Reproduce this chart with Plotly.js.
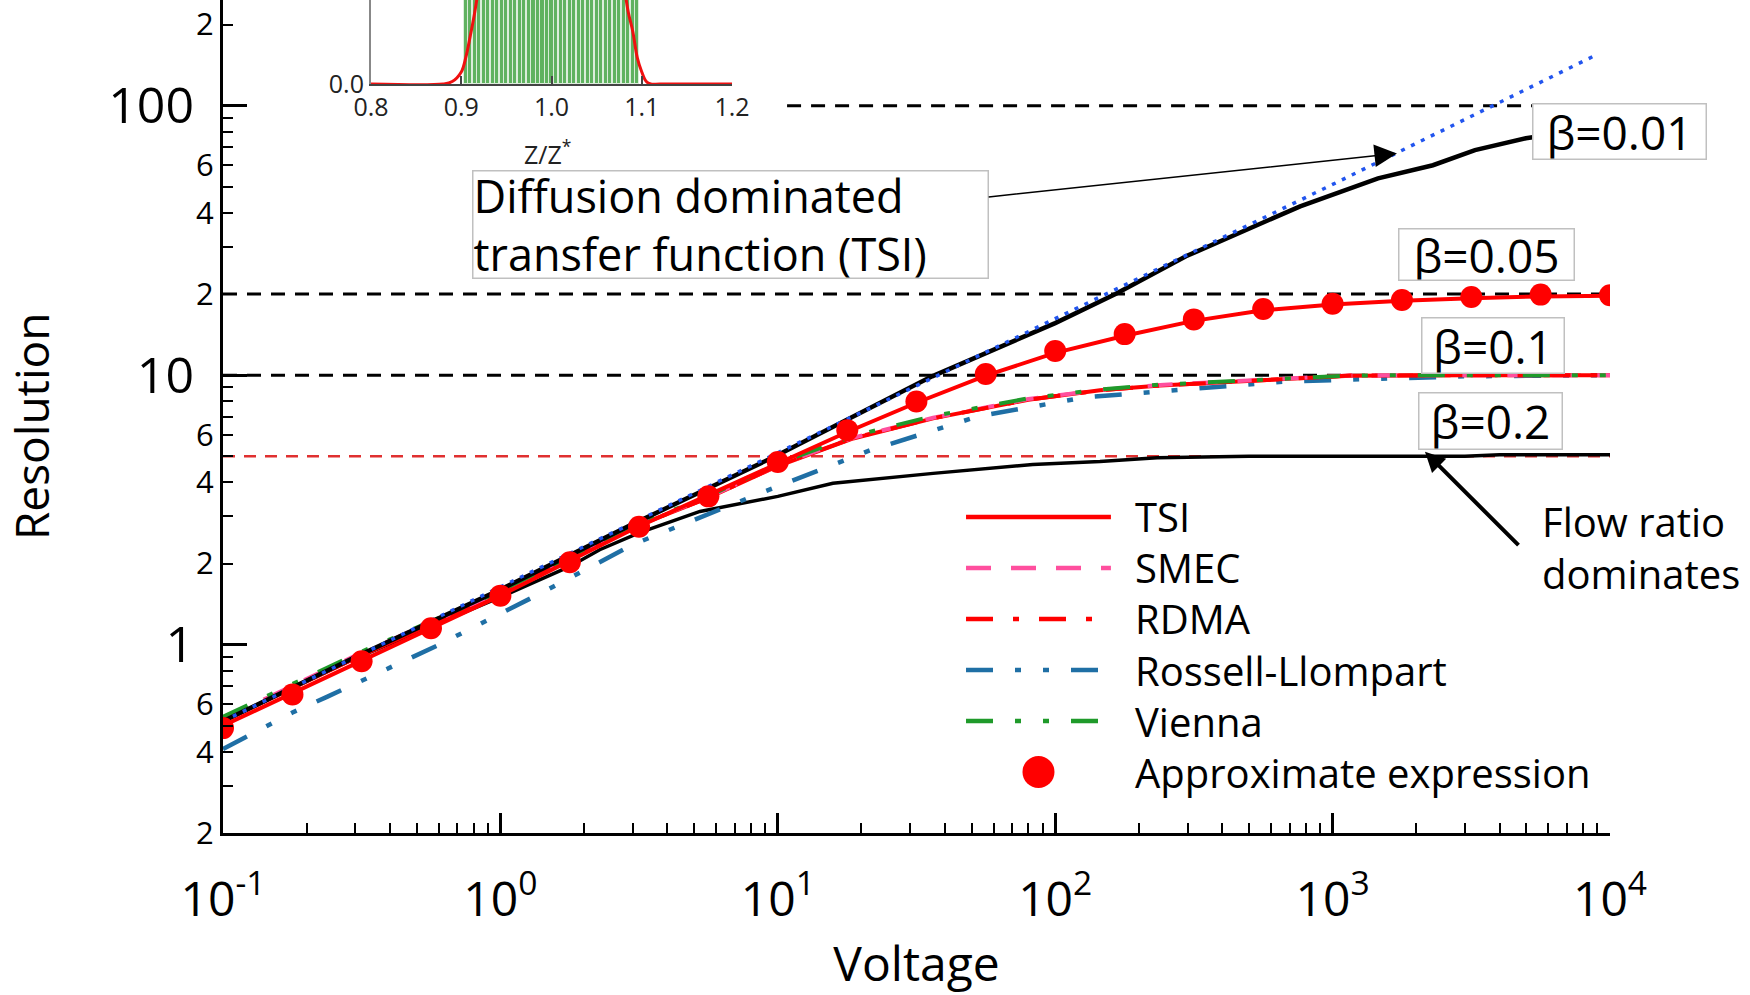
<!DOCTYPE html>
<html><head><meta charset="utf-8">
<script src="https://cdn.plot.ly/plotly-3.0.1.min.js"></script>
<style>html,body{margin:0;padding:0;background:#fff}#chart{width:1750px;height:995px}</style>
</head><body><div id="chart"></div>
<script>
// ---------- data ----------
// approximate expression (beta = 0.05), red dots
const voltageDots = [0.1,0.178,0.316,0.562,1,1.78,3.16,5.62,10,17.8,31.6,56.2,100,178,316,562,1000,1778,3162,5623,10000];
const approxB005  = [0.49,0.653,0.867,1.15,1.52,2.02,2.74,3.55,4.76,6.25,7.98,10.1,12.3,14.2,16.1,17.6,18.4,19.0,19.5,19.9,19.8];
// TSI beta = 0.05
const voltB005 = [0.1,0.3,1,3,10,17.8,31.6,56.2,100,178,316,562,1000,1778,3162,5623,10000];
const tsiB005  = [0.5,0.85,1.52,2.68,4.7,6.15,7.9,9.95,12.1,14.0,15.9,17.4,18.3,18.9,19.3,19.6,19.7];
// beta = 0.01 (black)
const voltB001 = [0.1,0.3,1,3,10,36,100,165,296,764,1458,2300,3260,4975,10000];
const resB001  = [0.52,0.9,1.6,2.8,5.05,9.9,15.6,20,27.6,42.3,53.7,60.1,68.4,75.7,84];
// diffusion dominated transfer function (blue dotted)
const voltDiff = [0.1,1,10,100,1000,8840];
const resDiff  = [0.52,1.63,5.15,16.2,51,153.6];
// beta = 0.1 group
const voltB01   = [0.1,0.3,1,3,5.6,10,18.7,36.3,80,145,239,580,1156,3000,10000];
const tsiB01    = [0.52,0.89,1.55,2.72,3.5,4.6,5.82,6.91,8.1,8.78,9.16,9.57,9.95,10,10];
const smecB01   = [0.53,0.91,1.57,2.74,3.52,4.62,5.86,6.95,8.15,8.8,9.2,9.6,9.97,10,10];
const rdmaB01   = [0.52,0.9,1.55,2.72,3.5,4.62,5.84,6.92,8.1,8.78,9.15,9.58,9.96,10,10];
const viennaB01 = [0.54,0.92,1.58,2.76,3.55,4.7,5.95,7.05,8.2,8.85,9.22,9.6,9.97,10,10];
const voltRossell = [0.1,0.178,0.237,0.59,1.43,3,8.6,21.5,52.7,128,690,3000,10000];
const rossellB01  = [0.41,0.56,0.64,0.99,1.57,2.35,3.64,5.26,7.03,8.27,9.48,9.9,10];
// beta = 0.2 (black)
const voltB02 = [0.1,0.3,1,1.78,2.28,3.16,5.24,10,15.8,36.3,83,145,233,500,3000,4000,10000];
const resB02  = [0.52,0.89,1.5,1.95,2.25,2.6,3.12,3.55,3.97,4.32,4.66,4.78,4.94,5.0,5.0,5.07,5.07];
// horizontal limit lines
const limitLevels = [100,20,10,5];
const limitStart  = [10.8,0.1,0.1,0.1];
const limitEnd    = [10000,10000,10000,10000];
// tick labels
const xTickVals = [0.1,1,10,100,1000,10000];
const xTickText = ['10<sup>-1</sup>','10<sup>0</sup>','10<sup>1</sup>','10<sup>2</sup>','10<sup>3</sup>','10<sup>4</sup>'];
const yTickValsSmall = [0.2,0.4,0.6,2,4,6,20,40,60,200];
const yTickTextSmall = ['2','4','6','2','4','6','2','4','6','2'];
const yTickValsBig = [1,10,100];
const yTickTextBig = ['1','10','100'];
const yMinorVals = [0.3,0.5,0.7,0.8,0.9,3,5,7,8,9,30,50,70,80,90];
// legend
const legendNames = ['TSI','SMEC','RDMA','Rossell-Llompart','Vienna','Approximate expression'];
const legendRows  = [0,1,2,3,4,5];
// beta labels
const betaLabels = ['β=0.01','β=0.05','β=0.1','β=0.2'];
// inset: transfer function vs Z/Z*
const insetZ  = [0.8,0.88,0.89,0.9,0.905,0.91,0.915,0.92,0.93,0.95,1.0,1.05,1.07,1.08,1.085,1.09,1.095,1.1,1.105,1.11,1.12,1.2];
const insetTF = [0,0,0.01,0.05,0.11,0.2,0.3,0.42,0.65,0.9,1,0.9,0.65,0.42,0.3,0.22,0.11,0.05,0.01,0,0,0];
const insetBarZ = [0.905,0.91,0.915,0.92,0.925,0.93,0.935,0.94,0.945,0.95,0.955,0.96,0.965,0.97,0.975,0.98,0.985,0.99,0.995,1.0,1.005,1.01,1.015,1.02,1.025,1.03,1.035,1.04,1.045,1.05,1.055,1.06,1.065,1.07,1.075,1.08,1.085,1.09,1.095];
const insetBarH = [1,1,1,1,1,1,1,1,1,1,1,1,1,1,1,1,1,1,1,1,1,1,1,1,1,1,1,1,1,1,1,1,1,1,1,1,1,1,1];
const insetTickVals = [0.8,0.9,1.0,1.1,1.2];
const insetTickText = ['0.8','0.9','1.0','1.1','1.2'];

// ---------- styles ----------
const FONT = 'Open Sans, Liberation Sans, sans-serif';
const RED = '#ff0000', PINK = '#ff4f9e', BLUE = '#1f6fa5', GREEN = '#1f9a2a';
const dashSMEC = '25px,20px';
const dashRDMA = '27px,20px,6px,20px';
const dashDDot = '27px,22px,6px,22px,6px,22px';

const traces = [];
// limit lines
limitLevels.forEach((lv, i) => {
  traces.push({x:[limitStart[i], limitEnd[i]], y:[lv, lv], mode:'lines', showlegend:false, hoverinfo:'skip',
    line:{color: lv === 5 ? '#e03030' : '#000', width: lv === 5 ? 2.5 : 3, dash: lv === 5 ? '12px,9px' : '14px,10px'}});
});
// beta 0.2
traces.push({x:voltB02, y:resB02, mode:'lines', showlegend:false, line:{color:'#000', width:3.5}});
// beta 0.1 group
traces.push({x:voltRossell, y:rossellB01, mode:'lines', showlegend:false, line:{color:BLUE, width:4.5, dash:dashDDot}});
traces.push({x:voltB01, y:tsiB01, mode:'lines', showlegend:false, line:{color:RED, width:4}});
traces.push({x:voltB01, y:smecB01, mode:'lines', showlegend:false, line:{color:PINK, width:4, dash:dashSMEC}});
traces.push({x:voltB01, y:rdmaB01, mode:'lines', showlegend:false, line:{color:RED, width:4, dash:dashRDMA}});
traces.push({x:voltB01, y:viennaB01, mode:'lines', showlegend:false, line:{color:GREEN, width:4, dash:dashDDot}});
// beta 0.01
traces.push({x:voltB001, y:resB001, mode:'lines', showlegend:false, line:{color:'#000', width:4.5}});
traces.push({x:voltDiff, y:resDiff, mode:'lines', showlegend:false, line:{color:'#2255ee', width:3.5, dash:'4px,7px'}});
// beta 0.05
traces.push({x:voltB005, y:tsiB005, mode:'lines', showlegend:false, line:{color:RED, width:4}});
traces.push({x:voltageDots, y:approxB005, mode:'markers', showlegend:false, yaxis:'y2',
  marker:{color:RED, size:22, line:{width:0}}});

// custom legend samples (subplot x3/y3)
const legendStyles = [
  {color:RED, dash:'solid'}, {color:PINK, dash:dashSMEC}, {color:RED, dash:dashRDMA},
  {color:BLUE, dash:dashDDot}, {color:GREEN, dash:dashDDot}
];
legendStyles.forEach((st, i) => {
  traces.push({x:[0,1], y:[legendRows[i], legendRows[i]], xaxis:'x3', yaxis:'y3', mode:'lines', showlegend:false,
    hoverinfo:'skip', line:{color:st.color, width:4.5, dash:st.dash}});
});
traces.push({x:[0.5], y:[legendRows[5]], xaxis:'x3', yaxis:'y3', mode:'markers', showlegend:false,
  marker:{color:RED, size:32}});

// inset
traces.push({type:'bar', x:insetBarZ, y:insetBarH, xaxis:'x4', yaxis:'y4', showlegend:false, width:0.0045,
  marker:{color:'rgb(95,178,95)', line:{color:'rgba(225,240,225,0.9)', width:1}}});
traces.push({x:insetZ, y:insetTF, xaxis:'x4', yaxis:'y4', mode:'lines', showlegend:false, line:{color:'#f01010', width:3, shape:'spline'}});

// x minor ticks
const xMinor = [];
for (let d = -1; d < 4; d++) for (let m = 2; m <= 9; m++) xMinor.push(m * Math.pow(10, d));

const annotations = [];
// legend texts
legendNames.forEach((nm, i) => annotations.push({xref:'x3', yref:'y3', x:1, y:legendRows[i], xanchor:'left', yanchor:'middle',
  xshift:22, text:nm, showarrow:false, font:{family:FONT, size:40, color:'#000'}}));
// beta labels
const betaPos = [[1.0072,0.8427,172,54],[0.9106,0.6939,174,50],[0.9156,0.5858,141,54],[0.9142,0.4946,142,55]];
betaLabels.forEach((t, i) => annotations.push({xref:'paper', yref:'paper', x:betaPos[i][0], y:betaPos[i][1],
  xanchor:'center', yanchor:'middle', text:t, showarrow:false, bgcolor:'#fff', bordercolor:'#c0c0c0', borderwidth:1.5,
  borderpad:0, width:betaPos[i][2], height:betaPos[i][3], font:{family:FONT, size:46, color:'#000'}}));
// diffusion box with its arrow (arrow tip on the diffusion line)
annotations.push({xref:'x', yref:'y', x:Math.log10(1706), y:Math.log10(66.5), ax:-666, ay:71, align:'left',
  text:'Diffusion dominated<br>transfer function (TSI)', showarrow:true, arrowhead:2, arrowsize:3, arrowwidth:1.5,
  arrowcolor:'#000', bgcolor:'#fff', bordercolor:'#c0c0c0',
  borderwidth:1.5, borderpad:0, width:514, height:106, font:{family:FONT, size:45, color:'#000'}});
// flow ratio
annotations.push({xref:'paper', yref:'paper', x:0.9495, y:0.3433, xanchor:'left', yanchor:'middle', align:'left',
  text:'Flow ratio<br>dominates', showarrow:false, font:{family:FONT, size:40, color:'#000'}});
annotations.push({xref:'x', yref:'y', x:Math.log10(2153), y:Math.log10(5.2), text:'', showarrow:true,
  ax:95, ay:95, arrowhead:2, arrowsize:1, arrowwidth:4, arrowcolor:'#000'});
// inset axis title
annotations.push({xref:'paper', yref:'paper', x:0.2343, y:0.8175, xanchor:'center', yanchor:'middle',
  text:'Z/Z<sup>*</sup>', showarrow:false, font:{family:FONT, size:25, color:'#222'}});
// y title
annotations.push({xref:'paper', yref:'paper', x:-0.1384, y:0.4886, xanchor:'center', yanchor:'middle', textangle:-90,
  text:'Resolution', showarrow:false, font:{family:FONT, size:46, color:'#000'}});

const yRange = [Math.log10(0.2), 2.392];
const layout = {
  width:1750, height:995, paper_bgcolor:'#fff', plot_bgcolor:'#fff',
  margin:{l:223, r:140, t:0, b:162}, showlegend:false, font:{family:FONT, color:'#000'},
  xaxis:{type:'log', range:[-1,4], domain:[0,1], anchor:'y', showline:true, linecolor:'#000', linewidth:3,
    ticks:'inside', ticklen:20, tickwidth:2.5, tickcolor:'#000', tickmode:'array', tickvals:xTickVals, ticktext:xTickText,
    tickfont:{family:FONT, size:48, color:'#000'}, ticklabelstandoff:22, showgrid:false, zeroline:false,
    minor:{tickmode:'array', tickvals:xMinor, ticks:'inside', ticklen:10, tickwidth:2, tickcolor:'#000', showgrid:false},
    title:{text:'Voltage', font:{family:FONT, size:48, color:'#000'}, standoff:22}},
  yaxis:{type:'log', range:yRange, domain:[0,1], anchor:'x', showline:true, linecolor:'#000', linewidth:3,
    ticks:'inside', ticklen:10, tickwidth:2, tickcolor:'#000', tickmode:'array', tickvals:yTickValsSmall, ticktext:yTickTextSmall,
    tickfont:{family:FONT, size:31, color:'#000'}, showgrid:false, zeroline:false,
    minor:{tickmode:'array', tickvals:yMinorVals, ticks:'inside', ticklen:10, tickwidth:2, tickcolor:'#000', showgrid:false}},
  yaxis2:{type:'log', range:yRange, overlaying:'y', side:'left', anchor:'x', showline:false,
    ticks:'inside', ticklen:24, tickwidth:3, tickcolor:'#000', tickmode:'array', tickvals:yTickValsBig, ticktext:yTickTextBig,
    tickfont:{family:FONT, size:50, color:'#000'}, ticklabelstandoff:28, showgrid:false, zeroline:false},
  xaxis3:{domain:[0.5357,0.6402], range:[0,1], anchor:'y3', visible:false, fixedrange:true},
  yaxis3:{domain:[0.0426,0.41], range:[5.5,-0.5], anchor:'x3', visible:false, fixedrange:true},
  xaxis4:{domain:[0.1067,0.367], range:[0.8,1.2], anchor:'y4', showline:true, linecolor:'#444', linewidth:2,
    ticks:'inside', ticklen:8, tickwidth:1.5, tickcolor:'#444', tickmode:'array', tickvals:insetTickVals, ticktext:insetTickText,
    tickfont:{family:FONT, size:25, color:'#222'}, showgrid:false, zeroline:false},
  yaxis4:{domain:[0.8992,1], range:[0,0.35], anchor:'x4', showline:true, linecolor:'#888', linewidth:2,
    ticks:'', tickmode:'array', tickvals:[0], ticktext:['0.0'], tickfont:{family:FONT, size:25, color:'#222'},
    showgrid:false, zeroline:false},
  bargap:0,
  annotations:annotations
};
Plotly.newPlot('chart', traces, layout, {displayModeBar:false, responsive:false});
</script></body></html>
